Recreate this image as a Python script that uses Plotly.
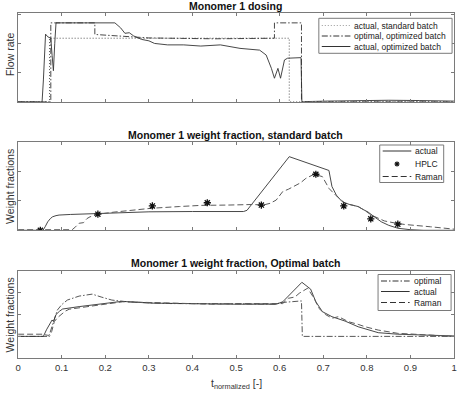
import plotly.graph_objects as go

W, H = 461, 394

# ---------------- data ----------------
# Panel 1: Monomer 1 dosing (flow rate, arbitrary units)
std_t = [0, 0.072, 0.072, 0.622, 0.622, 1.0]
std_y = [0, 0, 2.19, 2.19, 0, 0]

opt_t = [0, 0.075, 0.075, 0.176, 0.176, 0.25, 0.3, 0.45, 0.588, 0.588, 0.65, 0.65, 1.0]
opt_y = [0, 0, 2.72, 2.72, 2.32, 2.25, 2.2, 2.17, 2.19, 2.72, 2.72, 0, 0]

act1_t = [0, 0.055, 0.058, 0.063, 0.068, 0.075, 0.078, 0.081, 0.084, 0.087, 0.15, 0.222,
          0.235, 0.245, 0.255, 0.265, 0.283, 0.3, 0.313, 0.343, 0.38, 0.419, 0.464, 0.509,
          0.554, 0.569, 0.581, 0.588, 0.596, 0.602, 0.611, 0.618, 0.649, 0.651, 0.705,
          0.75, 0.8, 0.85, 0.92, 1.0]
act1_y = [0, 0, 0.75, 2.33, 2.24, 2.19, 1.6, 1.07, 2.0, 2.72, 2.72, 2.72,
          2.55, 2.36, 2.38, 2.27, 2.15, 2.1, 2.01, 1.96, 1.96, 1.92, 1.96, 1.84,
          1.78, 1.61, 1.15, 0.81, 1.15, 0.81, 1.44, 1.5, 1.52, 0, 0.02,
          0.03, 0.06, 0.05, 0.04, 0.02]

# Panel 2: Monomer 1 weight fraction, standard batch
act2_t = [0, 0.057, 0.062, 0.068, 0.074, 0.079, 0.087, 0.094, 0.12, 0.2, 0.3, 0.4, 0.5,
          0.517, 0.525, 0.622, 0.713, 0.72, 0.73, 0.743, 0.76, 0.78, 0.79, 0.803, 0.818,
          0.833, 0.85, 0.871, 0.9, 0.93, 1.0]
act2_y = [0, 0, 0.12, 0.29, 0.4, 0.46, 0.5, 0.52, 0.54, 0.59, 0.63, 0.64, 0.64,
          0.64, 0.68, 2.51, 2.04, 1.49, 1.2, 0.98, 0.88, 0.81, 0.72, 0.62, 0.45,
          0.29, 0.17, 0.07, 0.02, 0.0, 0.0]

hplc_t = [0.051, 0.183, 0.308, 0.434, 0.558, 0.683, 0.747, 0.809, 0.871]
hplc_y = [0.0, 0.55, 0.83, 0.94, 0.86, 1.91, 0.83, 0.39, 0.21]

ram2_t = [0, 0.06, 0.124, 0.132, 0.14, 0.15, 0.158, 0.165, 0.175, 0.185, 0.22, 0.26,
          0.305, 0.37, 0.42, 0.48, 0.539, 0.562, 0.578, 0.592, 0.607, 0.62, 0.633,
          0.648, 0.66, 0.679, 0.698, 0.713, 0.728, 0.75, 0.78, 0.795, 0.81, 0.825,
          0.84, 0.86, 0.886, 0.946, 1.0]
ram2_y = [0.02, 0.01, 0.02, 0.12, 0.24, 0.26, 0.4, 0.46, 0.5, 0.55, 0.62, 0.69,
          0.75, 0.81, 0.85, 0.86, 0.88, 0.86, 0.92, 1.03, 1.32, 1.4, 1.49,
          1.62, 1.77, 1.91, 1.83, 1.43, 1.2, 0.92, 0.81, 0.68, 0.52, 0.42,
          0.32, 0.26, 0.2, 0.12, 0.04]

# Panel 3: Monomer 1 weight fraction, optimal batch
opt3_t = [0, 0.068, 0.072, 0.079, 0.09, 0.1, 0.113, 0.14, 0.17, 0.192, 0.215, 0.24,
          0.28, 0.35, 0.45, 0.55, 0.59, 0.607, 0.645, 0.65, 0.652, 1.0]
opt3_y = [1.0, 1.0, 1.1, 1.55, 2.2, 2.45, 2.66, 2.84, 2.93, 2.79, 2.66, 2.6,
          2.55, 2.5, 2.48, 2.48, 2.48, 2.55, 2.62, 2.62, 1.0, 1.0]

act3_t = [0, 0.058, 0.065, 0.072, 0.078, 0.081, 0.087, 0.095, 0.102, 0.14, 0.192, 0.238,
          0.305, 0.4, 0.5, 0.592, 0.607, 0.651, 0.671, 0.683, 0.698, 0.72, 0.75, 0.78,
          0.826, 0.871, 0.946, 1.0]
act3_y = [1.0, 1.0, 1.3, 1.55, 1.75, 1.68, 2.0, 2.15, 2.25, 2.36, 2.48, 2.6,
          2.52, 2.48, 2.47, 2.47, 2.58, 3.47, 3.16, 2.58, 2.13, 1.9, 1.7, 1.44,
          1.17, 1.1, 1.05, 1.02]

ram3_t = [0, 0.055, 0.068, 0.072, 0.077, 0.083, 0.09, 0.098, 0.108, 0.117, 0.155, 0.192,
          0.24, 0.3, 0.35, 0.45, 0.5, 0.6, 0.607, 0.62, 0.635, 0.645, 0.664, 0.679,
          0.69, 0.705, 0.72, 0.735, 0.758, 0.78, 0.796, 0.826, 0.871, 0.909, 0.946, 1.0]
ram3_y = [1.1, 1.1, 1.05, 1.0, 1.22, 1.67, 1.85, 1.98, 2.15, 2.24, 2.33, 2.45,
          2.58, 2.55, 2.5, 2.47, 2.5, 2.5, 2.5, 2.74, 2.8, 2.97, 3.2, 2.74,
          2.28, 2.0, 1.83, 1.9, 1.67, 1.55, 1.44, 1.29, 1.14, 1.1, 1.07, 1.0]

x_ticks = [0, 0.1, 0.2, 0.3, 0.4, 0.5, 0.6, 0.7, 0.8, 0.9, 1]
x_tick_labels = ["0", "0.1", "0.2", "0.3", "0.4", "0.5", "0.6", "0.7", "0.8", "0.9", "1"]

titles = ["Monomer 1 dosing",
          "Monomer 1 weight fraction, standard batch",
          "Monomer 1 weight fraction, Optimal batch"]
ylabels = ["Flow rate", "Weight fractions", "Weight fractions"]

# ---------------- styling helpers ----------------
FONT = "Liberation Sans, Arial, Helvetica, sans-serif"
LINE_C = "#333333"
AXIS_C = "#7a7a7a"
DASH = "6px,3px"
DASHDOT = "6px,2px,1.5px,2px"
DOT = "1px,2px"


def px(x):
    return x / W


def py(y):
    return 1 - y / H


fig = go.Figure()

# panel 1
fig.add_trace(go.Scatter(x=std_t, y=std_y, mode="lines", xaxis="x", yaxis="y",
                         line=dict(color="#555555", width=1, dash=DOT), showlegend=False))
fig.add_trace(go.Scatter(x=opt_t, y=opt_y, mode="lines", xaxis="x", yaxis="y",
                         line=dict(color=LINE_C, width=0.9, dash=DASHDOT), showlegend=False))
fig.add_trace(go.Scatter(x=act1_t, y=act1_y, mode="lines", xaxis="x", yaxis="y",
                         line=dict(color=LINE_C, width=0.9), showlegend=False))
# panel 2
fig.add_trace(go.Scatter(x=act2_t, y=act2_y, mode="lines", xaxis="x2", yaxis="y2",
                         line=dict(color=LINE_C, width=0.9), showlegend=False))
fig.add_trace(go.Scatter(x=ram2_t, y=ram2_y, mode="lines", xaxis="x2", yaxis="y2",
                         line=dict(color="#5a5a5a", width=1, dash=DASH), showlegend=False))
fig.add_trace(go.Scatter(x=hplc_t, y=hplc_y, mode="markers", xaxis="x2", yaxis="y2",
                         marker=dict(symbol="asterisk-open", size=6, color="#111111",
                                     line=dict(color="#111111", width=1.3)),
                         showlegend=False))
# panel 3
fig.add_trace(go.Scatter(x=opt3_t, y=opt3_y, mode="lines", xaxis="x3", yaxis="y3",
                         line=dict(color="#444444", width=0.9, dash=DASHDOT), showlegend=False))
fig.add_trace(go.Scatter(x=act3_t, y=act3_y, mode="lines", xaxis="x3", yaxis="y3",
                         line=dict(color=LINE_C, width=0.9), showlegend=False))
fig.add_trace(go.Scatter(x=ram3_t, y=ram3_y, mode="lines", xaxis="x3", yaxis="y3",
                         line=dict(color="#5a5a5a", width=1, dash=DASH), showlegend=False))

# axes geometry (pixel tops/bottoms of each panel)
panels = [(13.3, 101.7), (142.3, 230.3), (270.7, 358.3)]
yranges = [[0, 3.05], [0, 3.0], [0, 4.0]]
yticks = [[0, 1, 2, 3], [0, 1, 2, 3], [0, 1, 2, 3, 4]]
xdom = [px(15.3), px(457)]

common = dict(showline=True, mirror="ticks", ticks="inside", ticklen=3,
              linecolor=AXIS_C, tickcolor=AXIS_C, linewidth=1, showgrid=False,
              zeroline=False)

layout = {}
for i, (top, bot) in enumerate(panels):
    sx = "" if i == 0 else str(i + 1)
    layout["xaxis" + sx] = dict(common, domain=xdom, range=[0, 1], tickvals=x_ticks,
                                ticktext=x_tick_labels, showticklabels=(i == 2),
                                anchor="y" + sx,
                                tickfont=dict(family=FONT, size=9.5, color="#333333"))
    layout["yaxis" + sx] = dict(common, domain=[py(bot), py(top)], range=yranges[i],
                                tickvals=yticks[i], showticklabels=False,
                                anchor="x" + sx)

annotations = []
title_y = [6, 134.5, 263]
ylab_y = [54, 186, 314.5]
for i in range(3):
    annotations.append(dict(x=px(236), y=py(title_y[i]), xref="paper", yref="paper",
                            text="<b>" + titles[i] + "</b>", showarrow=False,
                            font=dict(family=FONT, size=10.5, color="#111111"),
                            xanchor="center", yanchor="middle"))
    annotations.append(dict(x=px(7), y=py(ylab_y[i]), xref="paper", yref="paper",
                            text=ylabels[i], showarrow=False, textangle=-90,
                            font=dict(family=FONT, size=10.5, color="#333333"),
                            xanchor="center", yanchor="middle"))
annotations.append(dict(x=px(236.5), y=py(384), xref="paper", yref="paper",
                        text="t<sub>normalized</sub> [-]", showarrow=False,
                        font=dict(family=FONT, size=10.5, color="#333333"),
                        xanchor="center", yanchor="middle"))

shapes = []


def add_legend(box, rows, entries):
    x0, y0, x1, y1 = box
    shapes.append(dict(type="rect", xref="paper", yref="paper",
                       x0=px(x0), x1=px(x1), y0=py(y1), y1=py(y0),
                       line=dict(color=AXIS_C, width=1), fillcolor="white", layer="above"))
    for (label, kind), ry in zip(entries, rows):
        lx0, lx1 = x0 + 3, x0 + 32
        if kind == "marker":
            cx, r = (lx0 + lx1) / 2, 2.5
            for dx, dy in [(r, 0), (0, r), (r * 0.7, r * 0.7), (r * 0.7, -r * 0.7)]:
                shapes.append(dict(type="line", xref="paper", yref="paper",
                                   x0=px(cx - dx), x1=px(cx + dx),
                                   y0=py(ry - dy), y1=py(ry + dy),
                                   line=dict(color="#111111", width=1.3), layer="above"))
        else:
            dash = {"solid": "solid", "dash": DASH, "dashdot": DASHDOT, "dot": DOT}[kind]
            col = "#999999" if kind == "dot" else LINE_C
            shapes.append(dict(type="line", xref="paper", yref="paper",
                               x0=px(lx0), x1=px(lx1), y0=py(ry), y1=py(ry),
                               line=dict(color=col, width=1, dash=dash), layer="above"))
        annotations.append(dict(x=px(round(lx1 + 1.5)), y=py(ry), xref="paper",
                                yref="paper", text=label, showarrow=False,
                                xanchor="left", yanchor="middle",
                                font=dict(family=FONT, size=8.5, color="#1a1a1a")))


add_legend((320, 18.3, 455, 53.3), [25.5, 36, 46.5],
           [("actual, standard batch", "dot"),
            ("optimal, optimized batch", "dashdot"),
            ("actual, optimized batch", "solid")])
add_legend((381.7, 145, 446.5, 182.5), [151, 164, 176.5],
           [("actual", "solid"), ("HPLC", "marker"), ("Raman", "dash")])
add_legend((380, 274.5, 454, 310.5), [281, 291.5, 302.5],
           [("optimal", "dashdot"), ("actual", "solid"), ("Raman", "dash")])

fig.update_layout(width=W, height=H, margin=dict(l=0, r=0, t=0, b=0),
                  paper_bgcolor="white", plot_bgcolor="white",
                  showlegend=False, annotations=annotations, shapes=shapes,
                  hovermode=False, **layout)

fig.write_html("out.html", config={"displayModeBar": False, "staticPlot": True},
               post_script="document.body.style.margin='0';"
                           "document.body.style.overflow='hidden';")
